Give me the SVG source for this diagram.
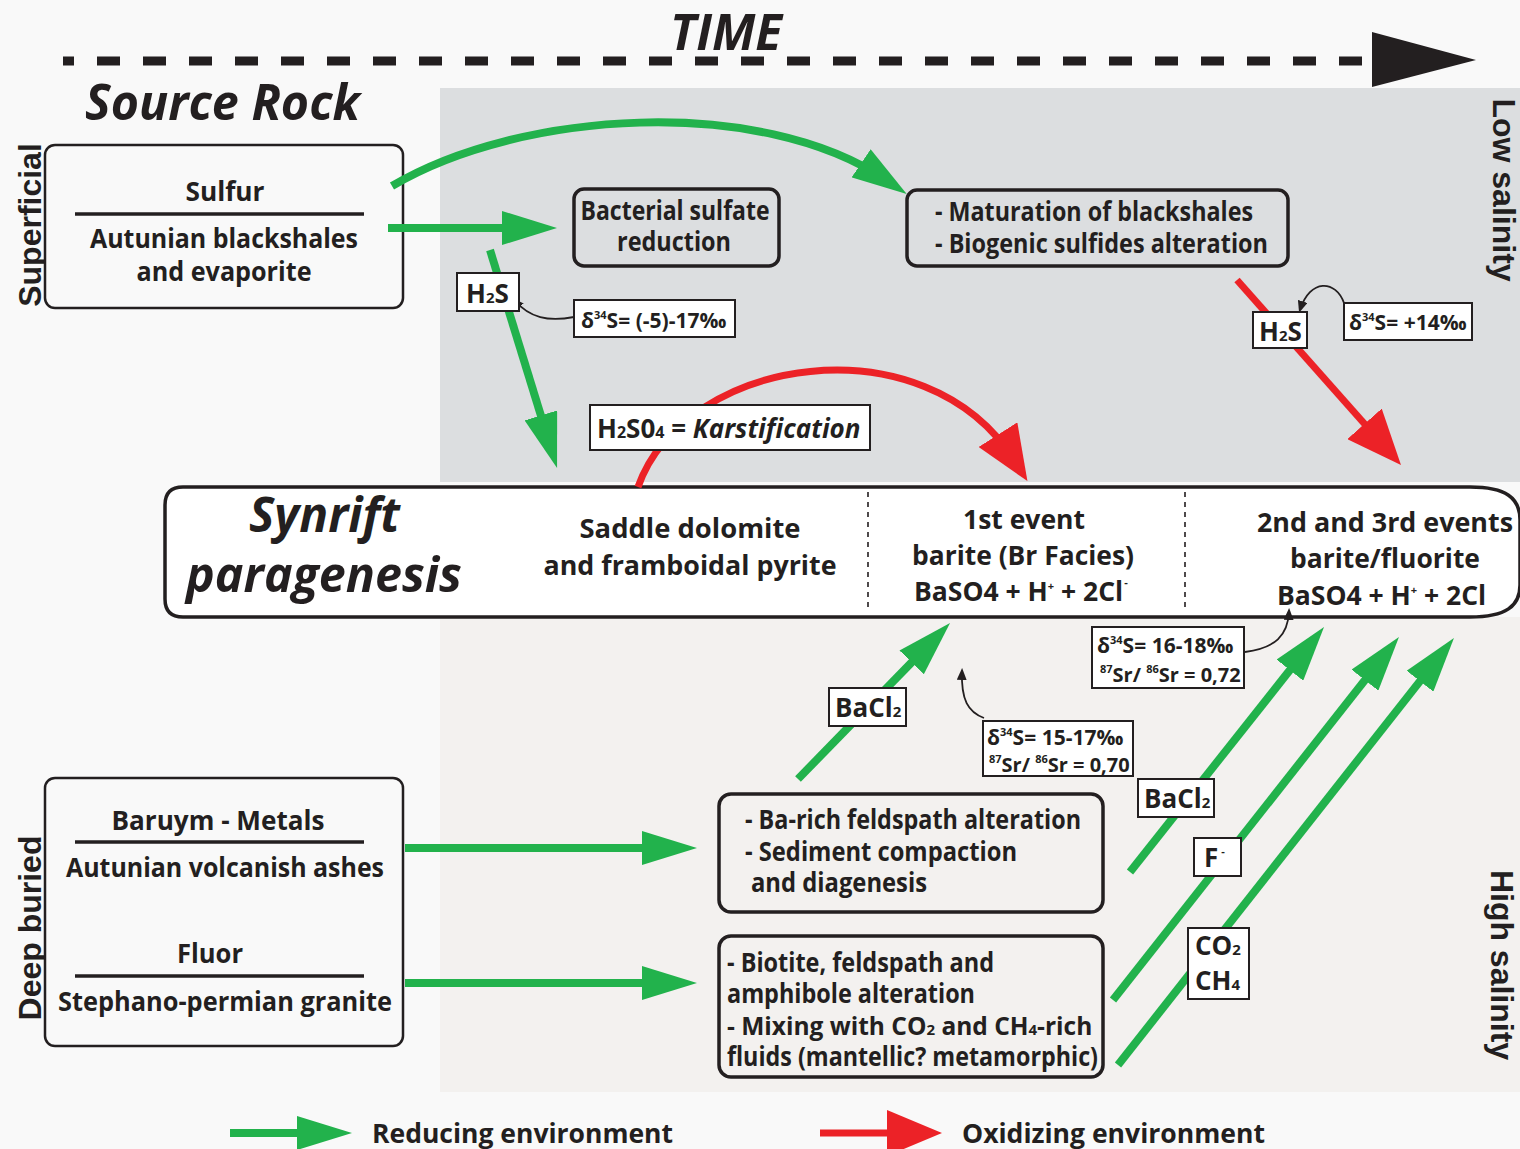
<svg xmlns="http://www.w3.org/2000/svg" width="1520" height="1149" viewBox="0 0 1520 1149">
<style>
.t{font-family:'Open Sans','Liberation Sans',sans-serif;font-weight:700;fill:#231f20}
.m{font-size:26px}
.s{font-size:21px}
.s2{font-size:20px}
.lab{font-size:26px}
.sub{font-size:15px}
.sup{font-size:11px}
.side{font-family:'Liberation Sans',Arial,sans-serif;font-weight:700;font-size:32px;fill:#231f20}
.it{font-style:italic}
.box{fill:#f9f9f9;stroke:#231f20;stroke-width:2.5}
.wbox{fill:#ffffff;stroke:#231f20;stroke-width:2}
.rule{stroke:#231f20;stroke-width:3.5}
.g{fill:none;stroke:#22b24c;stroke-width:8}
.r{fill:none;stroke:#ec2227;stroke-width:7}
.k{fill:none;stroke:#231f20;stroke-width:1.8}
</style>
<defs>
<marker id="hg" viewBox="0 0 55 34" markerWidth="55" markerHeight="34" refX="30" refY="17" orient="auto" markerUnits="userSpaceOnUse"><path d="M0,0 L55,17 L0,34 z" fill="#22b24c"/></marker>
<marker id="hr" viewBox="0 0 55 46" markerWidth="55" markerHeight="46" refX="30" refY="23" orient="auto" markerUnits="userSpaceOnUse"><path d="M0,0 L55,23 L0,46 z" fill="#ec2227"/></marker>
<marker id="hk" viewBox="0 0 12 10" markerWidth="12" markerHeight="10" refX="9" refY="5" orient="auto" markerUnits="userSpaceOnUse"><path d="M0,0 L12,5 L0,10 z" fill="#231f20"/></marker>
</defs>

<!-- background and panels -->
<rect x="0" y="0" width="1520" height="1149" fill="#f9f9f9"/>
<rect x="440" y="88" width="1080" height="394" fill="#dcdee0"/>
<rect x="440" y="617" width="1080" height="475" fill="#f3f1ef"/>

<!-- time axis -->
<g id="time">
<line x1="63" y1="61" x2="1362" y2="61" stroke="#231f20" stroke-width="9" stroke-dasharray="23 23" stroke-dashoffset="12"/>
<path d="M1372,32 L1476,60 L1372,87 z" fill="#231f20"/>
<text class="t it" x="670" y="50" font-size="50" textLength="112" lengthAdjust="spacingAndGlyphs">TIME</text>
</g>

<text class="t it" x="85" y="120" font-size="50" textLength="275" lengthAdjust="spacingAndGlyphs">Source Rock</text>

<!-- side labels -->
<text class="side" transform="translate(41,225) rotate(-90)" text-anchor="middle">Superficial</text>
<text class="side" transform="translate(41,928) rotate(-90)" text-anchor="middle">Deep buried</text>
<text class="side" transform="translate(1493,190) rotate(90)" text-anchor="middle">Low salinity</text>
<text class="side" transform="translate(1491,965) rotate(90)" text-anchor="middle">High salinity</text>

<!-- nodes -->
<g id="superficial-source">
<rect class="box" x="45" y="145" width="358" height="163" rx="10"/>
<text class="t m" x="225" y="201" text-anchor="middle" textLength="79" lengthAdjust="spacingAndGlyphs">Sulfur</text>
<line class="rule" x1="75" y1="214" x2="364" y2="214"/>
<text class="t m" x="224" y="248" text-anchor="middle" textLength="268" lengthAdjust="spacingAndGlyphs">Autunian blackshales</text>
<text class="t m" x="224" y="281" text-anchor="middle" textLength="175" lengthAdjust="spacingAndGlyphs">and evaporite</text>
</g>

<g id="bacterial">
<rect x="574" y="189" width="205" height="77" rx="10" fill="none" stroke="#231f20" stroke-width="3.5"/>
<text class="t m" x="675" y="220" text-anchor="middle" textLength="189" lengthAdjust="spacingAndGlyphs">Bacterial sulfate</text>
<text class="t m" x="674" y="251" text-anchor="middle" textLength="114" lengthAdjust="spacingAndGlyphs">reduction</text>
</g>

<g id="maturation">
<rect x="907" y="190" width="381" height="76" rx="10" fill="none" stroke="#231f20" stroke-width="3.5"/>
<text class="t m" x="935" y="221" textLength="318" lengthAdjust="spacingAndGlyphs">- Maturation of blackshales</text>
<text class="t m" x="935" y="253" textLength="333" lengthAdjust="spacingAndGlyphs">- Biogenic sulfides alteration</text>
</g>

<g id="synrift">
<path d="M183,487 L1470,487 C1506,487 1520,498 1520,520 L1520,585 C1520,606 1506,617 1470,617 L183,617 Q165,617 165,599 L165,505 Q165,487 183,487 Z" fill="#ffffff" stroke="#231f20" stroke-width="3.5"/>
<line x1="868" y1="492" x2="868" y2="612" stroke="#231f20" stroke-width="1.6" stroke-dasharray="5 5"/>
<line x1="1185" y1="492" x2="1185" y2="612" stroke="#231f20" stroke-width="1.6" stroke-dasharray="5 5"/>
<text class="t it" x="249" y="532" font-size="48" textLength="151" lengthAdjust="spacingAndGlyphs">Synrift</text>
<text class="t it" x="186" y="592" font-size="48" textLength="276" lengthAdjust="spacingAndGlyphs">paragenesis</text>
<text class="t m" x="690" y="538" text-anchor="middle" textLength="221" lengthAdjust="spacingAndGlyphs">Saddle dolomite</text>
<text class="t m" x="690" y="575" text-anchor="middle" textLength="293" lengthAdjust="spacingAndGlyphs">and framboidal pyrite</text>
<text class="t m" x="1024" y="529" text-anchor="middle" textLength="122" lengthAdjust="spacingAndGlyphs">1st event</text>
<text class="t m" x="1023" y="565" text-anchor="middle" textLength="222" lengthAdjust="spacingAndGlyphs">barite (Br Facies)</text>
<text class="t" x="914" y="601" font-size="26.5">BaSO4 + H<tspan class="sup" dy="-11">+</tspan><tspan dy="11"> + 2Cl</tspan><tspan class="sup" dx="1" dy="-15">-</tspan></text>
<text class="t m" x="1385" y="532" text-anchor="middle" textLength="256" lengthAdjust="spacingAndGlyphs">2nd and 3rd events</text>
<text class="t m" x="1385" y="568" text-anchor="middle" textLength="190" lengthAdjust="spacingAndGlyphs">barite/fluorite</text>
<text class="t" x="1277" y="605" font-size="26.5">BaSO4 + H<tspan class="sup" dy="-11">+</tspan><tspan dy="11"> + 2Cl</tspan></text>
</g>

<g id="deep-source">
<rect class="box" x="45" y="778" width="358" height="268" rx="10"/>
<text class="t m" x="218" y="830" text-anchor="middle" textLength="213" lengthAdjust="spacingAndGlyphs">Baruym - Metals</text>
<line class="rule" x1="75" y1="842" x2="364" y2="842"/>
<text class="t m" x="225" y="877" text-anchor="middle" textLength="318" lengthAdjust="spacingAndGlyphs">Autunian volcanish ashes</text>
<text class="t m" x="210" y="963" text-anchor="middle" textLength="66" lengthAdjust="spacingAndGlyphs">Fluor</text>
<line class="rule" x1="75" y1="976" x2="364" y2="976"/>
<text class="t m" x="225" y="1011" text-anchor="middle" textLength="334" lengthAdjust="spacingAndGlyphs">Stephano-permian granite</text>
</g>

<g id="ba-rich">
<rect x="719" y="794" width="384" height="118" rx="12" fill="none" stroke="#231f20" stroke-width="3.5"/>
<text class="t m" x="745" y="829" textLength="336" lengthAdjust="spacingAndGlyphs">- Ba-rich feldspath alteration</text>
<text class="t m" x="745" y="861" textLength="272" lengthAdjust="spacingAndGlyphs">- Sediment compaction</text>
<text class="t m" x="751" y="892" textLength="176" lengthAdjust="spacingAndGlyphs">and diagenesis</text>
</g>

<g id="biotite">
<rect x="719" y="936" width="384" height="141" rx="12" fill="none" stroke="#231f20" stroke-width="3.5"/>
<text class="t m" x="727" y="972" textLength="267" lengthAdjust="spacingAndGlyphs">- Biotite, feldspath and</text>
<text class="t m" x="727" y="1003" textLength="248" lengthAdjust="spacingAndGlyphs">amphibole alteration</text>
<text class="t" x="727" y="1035" font-size="24.5">- Mixing with CO<tspan class="sub">2</tspan> and CH<tspan class="sub">4</tspan>-rich</text>
<text class="t m" x="727" y="1066" textLength="371" lengthAdjust="spacingAndGlyphs">fluids (mantellic? metamorphic)</text>
</g>

<!-- connectors -->
<g id="connectors">
<path class="g" d="M392,186 C520,110 760,95 886,180" marker-end="url(#hg)"/>
<path class="g" d="M388,228 L532,228" marker-end="url(#hg)"/>
<path class="g" d="M490,250 L549.7,444.1" marker-end="url(#hg)"/>
<path class="g" d="M405,848 L672,848" marker-end="url(#hg)"/>
<path class="g" d="M405,983 L672,983" marker-end="url(#hg)"/>
<path class="g" d="M798,779 L932.6,640.9" marker-end="url(#hg)"/>
<path class="g" d="M1130,872 L1308.5,646.6" marker-end="url(#hg)"/>
<path class="g" d="M1113,1000 L1383.5,656.6" marker-end="url(#hg)"/>
<path class="g" d="M1118,1065 L1438.5,657.6" marker-end="url(#hg)"/>
<path class="r" d="M638,487 C685,355 925,320 1014,460" marker-end="url(#hr)"/>
<path class="r" d="M1237,280 L1384.4,446.3" marker-end="url(#hr)"/>
<path class="k" d="M574,317 C548,322 530,318 514,300" marker-end="url(#hk)"/>
<path class="k" d="M1344,303 C1336,280 1310,278 1300,310" marker-end="url(#hk)"/>
<path class="k" d="M984,718 C968,712 961,700 962,671" marker-end="url(#hk)"/>
<path class="k" d="M1245,652 C1275,648 1288,636 1289,611" marker-end="url(#hk)"/>
</g>

<!-- connector labels -->
<g id="labels">
<rect class="wbox" x="457" y="273" width="62" height="38"/>
<text class="t lab" x="466" y="303">H<tspan class="sub">2</tspan>S</text>
<rect class="wbox" x="574" y="300" width="161" height="37"/>
<text class="t s" x="581" y="328">δ<tspan class="sup" dy="-9">34</tspan><tspan dy="9">S= (-5)-17‰</tspan></text>

<rect class="wbox" x="1253" y="312" width="54" height="36"/>
<text class="t lab" x="1259" y="341">H<tspan class="sub">2</tspan>S</text>
<rect class="wbox" x="1344" y="303" width="128" height="37"/>
<text class="t s" x="1349" y="330">δ<tspan class="sup" dy="-9">34</tspan><tspan dy="9">S= +14‰</tspan></text>

<rect class="wbox" x="590" y="405" width="280" height="45"/>
<text class="t" x="597" y="438" font-size="26">H<tspan font-size="16">2</tspan>S0<tspan font-size="16">4</tspan> = <tspan font-style="italic">Karstification</tspan></text>

<rect class="wbox" x="829" y="688" width="77" height="38"/>
<text class="t lab" x="835" y="717">BaCl<tspan class="sub">2</tspan></text>

<rect class="wbox" x="983" y="721" width="150" height="55"/>
<text class="t s" x="987" y="745">δ<tspan class="sup" dy="-9">34</tspan><tspan dy="9">S= 15-17‰</tspan></text>
<text class="t s2" x="989" y="772"><tspan class="sup" dy="-9">87</tspan><tspan dy="9">Sr/ </tspan><tspan class="sup" dy="-9">86</tspan><tspan dy="9">Sr = 0,70</tspan></text>

<rect class="wbox" x="1092" y="627" width="152" height="61"/>
<text class="t s" x="1097" y="653">δ<tspan class="sup" dy="-9">34</tspan><tspan dy="9">S= 16-18‰</tspan></text>
<text class="t s2" x="1100" y="682"><tspan class="sup" dy="-9">87</tspan><tspan dy="9">Sr/ </tspan><tspan class="sup" dy="-9">86</tspan><tspan dy="9">Sr = 0,72</tspan></text>

<rect class="wbox" x="1138" y="779" width="76" height="38"/>
<text class="t lab" x="1144" y="808">BaCl<tspan class="sub">2</tspan></text>

<rect class="wbox" x="1194" y="838" width="47" height="38"/>
<text class="t lab" x="1204" y="867">F<tspan class="sup" dx="3" dy="-12">-</tspan></text>

<rect class="wbox" x="1188" y="928" width="61" height="71"/>
<text class="t lab" x="1195" y="955">CO<tspan class="sub">2</tspan></text>
<text class="t lab" x="1195" y="990">CH<tspan class="sub">4</tspan></text>
</g>

<!-- legend -->
<g id="legend">
<path class="g" d="M230,1133 L327,1133" marker-end="url(#hg)"/>
<text class="t lab" x="372" y="1143" textLength="301" lengthAdjust="spacingAndGlyphs">Reducing environment</text>
<path class="r" d="M820,1133 L917,1133" marker-end="url(#hr)"/>
<text class="t lab" x="962" y="1143" textLength="303" lengthAdjust="spacingAndGlyphs">Oxidizing environment</text>
</g>
</svg>
